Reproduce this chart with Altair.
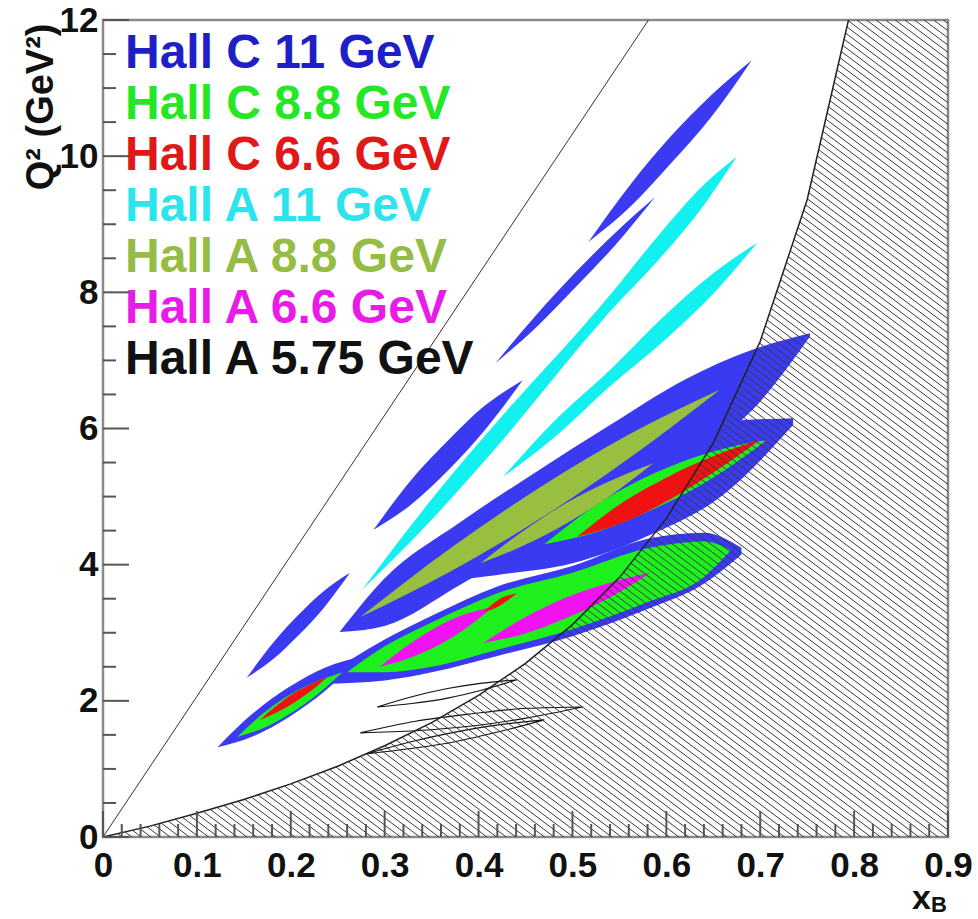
import altair as alt
import numpy as np
import pandas as pd

# ---------------- data ----------------
X_TICKS = [0, 0.1, 0.2, 0.3, 0.4, 0.5, 0.6, 0.7, 0.8, 0.9]
Y_TICKS = [0, 2, 4, 6, 8, 10, 12]

# lower kinematic boundary of the hatched (excluded) region
BOUND_X = [0, 0.05, 0.10, 0.15, 0.20, 0.25, 0.30, 0.35, 0.40, 0.45, 0.50,
           0.55, 0.60, 0.65, 0.70, 0.75, 0.794]
BOUND_Q = [0, 0.16, 0.35, 0.55, 0.78, 1.04, 1.34, 1.68, 2.08, 2.55, 3.12,
           3.81, 4.68, 5.79, 7.28, 9.36, 12.0]

# upper-left kinematic limit line
DIAG_X = [0, 0.581]
DIAG_Q = [0, 12]

# ---- Hall C 11 GeV (blue) ----
c11_a = dict(x=[0.517, 0.561, 0.604, 0.648, 0.691],
             lo=[8.74, 9.25, 9.88, 10.58, 11.41], hi=[8.74, 9.57, 10.28, 10.90, 11.41])
c11_b = dict(x=[0.418, 0.461, 0.503, 0.546, 0.588],
             lo=[6.96, 7.48, 8.07, 8.70, 9.40], hi=[6.96, 7.66, 8.29, 8.88, 9.40])
c11_c = dict(x=[0.288, 0.328, 0.368, 0.407, 0.447],
             lo=[4.51, 4.88, 5.39, 5.98, 6.71], hi=[4.51, 5.24, 5.83, 6.34, 6.71])
c11_d = dict(x=[0.153, 0.181, 0.208, 0.236, 0.263],
             lo=[2.34, 2.61, 2.96, 3.38, 3.88], hi=[2.34, 2.85, 3.26, 3.62, 3.88])
c11_e = dict(x=[0.122, 0.160, 0.199, 0.237, 0.275],
             lo=[1.32, 1.48, 1.77, 2.15, 2.65], hi=[1.32, 1.82, 2.21, 2.49, 2.65])
c11_low = dict(x=[0.235, 0.30, 0.35, 0.42, 0.50, 0.58, 0.64, 0.68],
               lo=[2.25, 2.30, 2.42, 2.66, 2.95, 3.35, 3.72, 4.15],
               hi=[2.35, 2.90, 3.25, 3.68, 3.98, 4.38, 4.47, 4.25])
c11_up = dict(x=[0.252, 0.30, 0.38, 0.46, 0.54, 0.62, 0.69, 0.753],
              lo=[3.01, 3.10, 3.70, 4.35, 4.95, 5.55, 6.25, 7.35],
              hi=[3.01, 3.80, 4.62, 5.35, 6.05, 6.72, 7.15, 7.40])
c11_mid = dict(x=[0.36, 0.42, 0.50, 0.58, 0.66, 0.735],
               lo=[3.75, 3.85, 4.02, 4.42, 5.02, 6.05],
               hi=[3.75, 4.35, 4.95, 5.60, 6.10, 6.15])

# ---- Hall C 8.8 GeV (green) ----
c88_low = dict(x=[0.26, 0.30, 0.35, 0.42, 0.50, 0.58, 0.64, 0.668],
               lo=[2.42, 2.42, 2.50, 2.75, 3.05, 3.45, 3.82, 4.20],
               hi=[2.42, 2.80, 3.15, 3.58, 3.88, 4.24, 4.34, 4.22])
c88_ll = dict(x=[0.143, 0.171, 0.199, 0.227, 0.255],
              lo=[1.47, 1.60, 1.81, 2.08, 2.42], hi=[1.47, 1.82, 2.09, 2.28, 2.42])
c88_mid = dict(x=[0.470, 0.530, 0.590, 0.649, 0.707],
               lo=[4.30, 4.50, 4.84, 5.27, 5.83], hi=[4.30, 4.92, 5.36, 5.66, 5.83])

# ---- Hall C 6.6 GeV (red) ----
c66_ll = dict(x=[0.167, 0.185, 0.203, 0.221, 0.239],
              lo=[1.72, 1.83, 1.97, 2.14, 2.35], hi=[1.72, 1.93, 2.11, 2.24, 2.35])
c66_mid = dict(x=[0.505, 0.554, 0.603, 0.651, 0.70],
               lo=[4.41, 4.62, 4.95, 5.36, 5.83], hi=[4.41, 4.92, 5.30, 5.60, 5.83])
c66_s = dict(x=[0.405, 0.423, 0.441], lo=[3.30, 3.40, 3.58], hi=[3.30, 3.50, 3.58])

# ---- Hall A 11 GeV (cyan) ----
a11_a = dict(x=[0.276, 0.35, 0.43, 0.51, 0.54, 0.59, 0.64, 0.675],
             lo=[3.63, 4.66, 5.90, 7.24, 7.72, 8.45, 9.28, 9.99],
             hi=[3.63, 4.96, 6.26, 7.48, 7.96, 8.81, 9.58, 9.99])
a11_b = dict(x=[0.426, 0.48, 0.54, 0.60, 0.65, 0.697],
             lo=[5.29, 5.86, 6.62, 7.32, 7.98, 8.73], hi=[5.29, 6.10, 6.86, 7.68, 8.28, 8.73])

# ---- Hall A 8.8 GeV (olive) ----
a88_up = dict(x=[0.274, 0.37, 0.466, 0.561, 0.657],
              lo=[3.23, 3.90, 4.68, 5.57, 6.57], hi=[3.23, 4.24, 5.14, 5.92, 6.57])
a88_mid = dict(x=[0.402, 0.448, 0.494, 0.540, 0.586],
               lo=[4.02, 4.28, 4.61, 5.01, 5.49], hi=[4.02, 4.50, 4.91, 5.23, 5.49])

# ---- Hall A 6.6 GeV (magenta) ----
a66_a = dict(x=[0.295, 0.325, 0.355, 0.385, 0.415],
             lo=[2.50, 2.62, 2.80, 3.05, 3.38], hi=[2.50, 2.82, 3.08, 3.27, 3.38])
a66_b = dict(x=[0.405, 0.450, 0.494, 0.539, 0.583],
             lo=[2.85, 2.99, 3.22, 3.51, 3.88], hi=[2.85, 3.23, 3.52, 3.73, 3.88])

# ---- Hall A 5.75 GeV (black outlines) ----
a575_a = dict(x=[0.292, 0.329, 0.367, 0.404, 0.441],
              lo=[1.91, 1.96, 2.04, 2.16, 2.31], hi=[1.91, 2.06, 2.18, 2.26, 2.31])
a575_b = dict(x=[0.274, 0.333, 0.393, 0.452, 0.511],
              lo=[1.53, 1.56, 1.63, 1.75, 1.91], hi=[1.53, 1.70, 1.81, 1.89, 1.91])
a575_c = dict(x=[0.28, 0.328, 0.375, 0.423, 0.47],
              lo=[1.22, 1.30, 1.40, 1.55, 1.72], hi=[1.22, 1.40, 1.54, 1.65, 1.72])

LEGEND_LABELS = ["Hall C 11 GeV", "Hall C 8.8 GeV", "Hall C 6.6 GeV", "Hall A 11 GeV",
                 "Hall A 8.8 GeV", "Hall A 6.6 GeV", "Hall A 5.75 GeV"]

# ---------------- styles ----------------
W, H = 845, 817
FONT = "Liberation Sans"
LEGEND_COLORS = ["#1f1fc8", "#25e825", "#e01818", "#2ee4ec", "#95bc44", "#e81be8", "#111111"]
FILL = dict(blue="#3a3af2", green="#1ef01e", red="#f01212", cyan="#12f0f0",
            olive="#99bf40", magenta="#f012f0")

XS = alt.Scale(domain=[0, 0.9], nice=False, zero=False)
YS = alt.Scale(domain=[0, 12], nice=False, zero=False)
XA = alt.Axis(values=X_TICKS, format=".1~f", labelFont=FONT, labelFontSize=35,
              labelFontWeight="bold", labelColor="#111", ticks=False, tickSize=0,
              domain=False, grid=False, labelPadding=11, labelFlush=False,
              labelOverlap=False, title=None)
YA = alt.Axis(values=Y_TICKS, format="d", labelFont=FONT, labelFontSize=35,
              labelFontWeight="bold", labelColor="#111", ticks=False, tickSize=0,
              domain=False, grid=False, labelPadding=5, labelFlush=False,
              labelOverlap=False, title="Q² (GeV²)", titleFont=FONT, titleFontSize=38,
              titleFontWeight="bold", titleColor="#111", titleAngle=270,
              titleX=-51, titleY=3, titleAlign="right", titleBaseline="alphabetic")


def blobs(named):
    frames = [pd.DataFrame({"blob": k, "x": v["x"], "lo": v["lo"], "hi": v["hi"]})
              for k, v in named.items()]
    return pd.concat(frames, ignore_index=True)


def area_layer(named, **mark):
    return alt.Chart(blobs(named)).mark_area(interpolate="monotone", clip=True, **mark).encode(
        x=alt.X("x:Q", scale=XS, axis=XA),
        y=alt.Y("lo:Q", scale=YS, axis=YA),
        y2="hi:Q",
        detail="blob:N",
    )


layers = [
    area_layer(dict(c11_a=c11_a, c11_b=c11_b, c11_c=c11_c, c11_d=c11_d, c11_e=c11_e,
                    c11_low=c11_low, c11_up=c11_up, c11_mid=c11_mid), color=FILL["blue"]),
    area_layer(dict(c88_low=c88_low, c88_ll=c88_ll, c88_mid=c88_mid), color=FILL["green"]),
    area_layer(dict(a11_a=a11_a, a11_b=a11_b), color=FILL["cyan"]),
    area_layer(dict(a88_up=a88_up, a88_mid=a88_mid), color=FILL["olive"]),
    area_layer(dict(a66_a=a66_a, a66_b=a66_b), color=FILL["magenta"]),
    area_layer(dict(c66_ll=c66_ll, c66_mid=c66_mid, c66_s=c66_s), color=FILL["red"]),
    area_layer(dict(a575_a=a575_a, a575_b=a575_b, a575_c=a575_c),
               fillOpacity=0, stroke="#111", strokeWidth=1.1),
]

# hatching of the excluded region: lines start on the boundary and run down-right
px_per_x = W / 0.9
px_per_q = H / 12.0
K = 0.75 * px_per_x / px_per_q          # slope of hatch lines in data units
DC = 7.2 / px_per_q                      # vertical spacing of hatch lines
bx = np.array(BOUND_X + [0.95])
bq = np.array(BOUND_Q + [12.0])
g = bq + K * bx
cs = np.arange(DC, g[-1], DC)
hx = np.interp(cs, g, bx)
hq = np.interp(cs, g, bq)
hatch = pd.DataFrame({"x": hx, "y": hq, "x2": hx + 1.2, "y2": hq - K * 1.2})
layers.append(
    alt.Chart(hatch).mark_rule(clip=True, color="#3a3a3a", strokeWidth=1).encode(
        x=alt.X("x:Q", scale=XS, axis=XA), y=alt.Y("y:Q", scale=YS, axis=YA),
        x2="x2:Q", y2="y2:Q")
)

bound = pd.DataFrame({"x": BOUND_X, "q": BOUND_Q})
layers.append(
    alt.Chart(bound).mark_line(color="#222", strokeWidth=1.5, clip=True).encode(
        x=alt.X("x:Q", scale=XS, axis=XA), y=alt.Y("q:Q", scale=YS, axis=YA))
)
diag = pd.DataFrame({"x": DIAG_X, "q": DIAG_Q})
layers.append(
    alt.Chart(diag).mark_line(color="#333", strokeWidth=1, clip=True).encode(
        x=alt.X("x:Q", scale=XS, axis=XA), y=alt.Y("q:Q", scale=YS, axis=YA))
)

# inward ticks (ROOT style)
x_minor = [round(i * 0.02, 2) for i in range(1, 45) if i % 5 != 0]
y_minor = [i * 0.5 for i in range(1, 24) if i % 4 != 0]
for vals, ln in ((X_TICKS, 26), (x_minor, 13)):
    layers.append(alt.Chart(pd.DataFrame({"v": vals})).mark_rule(color="#555", strokeWidth=2).encode(
        x=alt.X("v:Q", scale=XS, axis=XA), y=alt.value(H), y2=alt.value(H - ln)))
for vals, ln in ((Y_TICKS, 26), (y_minor, 13)):
    layers.append(alt.Chart(pd.DataFrame({"v": vals})).mark_rule(color="#555", strokeWidth=2).encode(
        y=alt.Y("v:Q", scale=YS, axis=YA), x=alt.value(0), x2=alt.value(ln)))

# legend as coloured text
leg = pd.DataFrame({"label": LEGEND_LABELS, "col": LEGEND_COLORS, "i": range(len(LEGEND_LABELS))})
layers.append(
    alt.Chart(leg).transform_calculate(py="48 + datum.i * 51").mark_text(
        align="left", baseline="alphabetic", font=FONT, fontSize=48, fontWeight="bold").encode(
        x=alt.value(22), y=alt.Y("py:Q", scale=None), text="label:N",
        color=alt.Color("col:N", scale=None))
)

# x-axis title x_B
layers.append(alt.Chart(pd.DataFrame({"t": ["x"]})).mark_text(
    align="left", baseline="alphabetic", font=FONT, fontSize=34, fontWeight="bold", color="#111").encode(
    x=alt.value(809), y=alt.value(889), text="t:N"))
layers.append(alt.Chart(pd.DataFrame({"t": ["B"]})).mark_text(
    align="left", baseline="alphabetic", font=FONT, fontSize=22, fontWeight="bold", color="#111").encode(
    x=alt.value(828), y=alt.value(892), text="t:N"))

chart = alt.layer(*layers).properties(
    width=W, height=H,
    padding={"left": 103, "top": 20, "right": 30, "bottom": 82},
    autosize=alt.AutoSizeParams(type="none"),
).configure_view(stroke="#8a8a8a", strokeWidth=2.5)

chart.save("out.html", embed_options={"renderer": "svg", "actions": False})
